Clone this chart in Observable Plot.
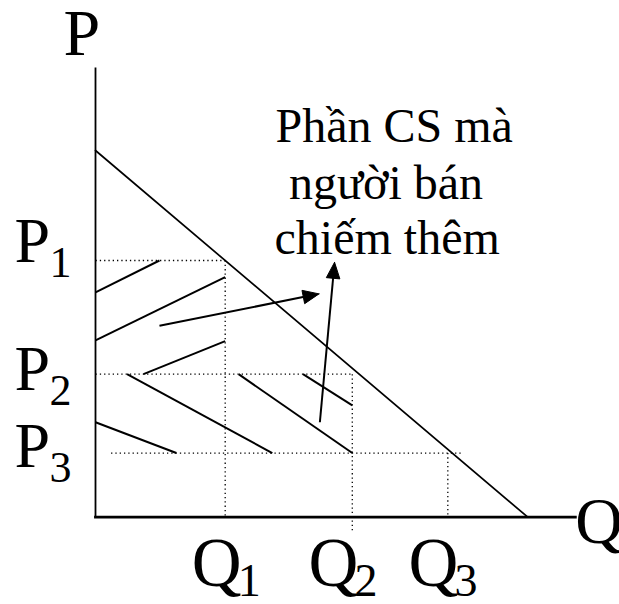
<!DOCTYPE html>
<html>
<head>
<meta charset="utf-8">
<script src="https://cdn.jsdelivr.net/npm/d3@7"></script>
<script src="https://cdn.jsdelivr.net/npm/@observablehq/plot@0.6"></script>
<style>
  html, body { margin: 0; padding: 0; background: #fff; }
</style>
</head>
<body>
<div id="chart"></div>
<script>
// Linear demand curve: price falls from 10 to 0 as quantity rises from 0 to 10
const demandLine = [{q: 0, p: 10}, {q: 10, p: 0}];

// Price levels P1, P2, P3 and the quantities Q1, Q2, Q3 bought at them
const priceLevels = [7, 3.9, 1.75];
const quantityLevels = [3, 5.94, 8.15];
const levelIndex = ["1", "2", "3"];

// Hatching of the surplus areas: [q1, p1, q2, p2]
const hatchSegments = [
  [0, 6.13, 1.48, 7],
  [0, 4.82, 3, 6.545],
  [1.11, 3.9, 3, 4.8],
  [0.73, 3.9, 4.09, 1.75],
  [0, 2.59, 1.87, 1.75],
  [3.31, 3.9, 5.94, 1.75],
  [4.8, 3.9, 5.94, 3.05]
];

// Pointers from the hatched areas to the note: [fromQ, fromP, toQ, toP]
const pointerSegments = [
  [1.48, 5.22, 5.17, 6.09],
  [5.19, 2.59, 5.53, 6.95]
];

// Note text, one entry per line
const noteLines = ["Phần CS mà", "người bán", "chiếm thêm"];

// ---- layout -------------------------------------------------------------
const W = 619, H = 604;
const M = {left: 95, right: 91.7, top: 150, bottom: 87.3};
const qDomain = [0, 10], pDomain = [0, 10];
const serif = "'Liberation Serif', 'Times New Roman', Times, serif";

// pixels per unit on each axis (used to keep arrowheads undistorted)
const kx = (W - M.left - M.right) / (qDomain[1] - qDomain[0]);
const ky = (H - M.top - M.bottom) / (pDomain[1] - pDomain[0]);

const [P1, P2, P3] = priceLevels;
const [Q1, Q2, Q3] = quantityLevels;

// axis extents beyond the demand intercepts
const pAxisTop = 12.24, qAxisRight = 11.1;

const axes = [
  {x1: 0, y1: 0, x2: 0, y2: pAxisTop, w: 1.8},
  {x1: 0, y1: 0, x2: qAxisRight, y2: 0, w: 2.8}
];

const guides = [
  {x1: 0, y1: P1, x2: Q1, y2: P1},
  {x1: Q1, y1: P1, x2: Q1, y2: 0},
  {x1: 0, y1: P2, x2: Q2, y2: P2},
  {x1: Q2, y1: P2, x2: Q2, y2: -0.36},
  {x1: 0.36, y1: P3, x2: 8.46, y2: P3},
  {x1: Q3, y1: P3, x2: Q3, y2: 0}
];

const hatch = hatchSegments.map(([x1, y1, x2, y2]) => ({x1, y1, x2, y2}));

// filled triangular arrowheads built in screen space, mapped back to data units
const headLen = 16, headHalf = 6.8;
const pointerShafts = [];
const pointerHeads = [];
pointerSegments.forEach(([q1, p1, q2, p2], i) => {
  const dx = (q2 - q1) * kx, dy = -(p2 - p1) * ky;
  const len = Math.hypot(dx, dy);
  const ux = dx / len, uy = dy / len;
  const bx = -headLen * ux, by = -headLen * uy;       // tip -> base centre
  const toQ = (px) => px / kx, toP = (py) => -py / ky;
  pointerShafts.push({x1: q1, y1: p1, x2: q2 + toQ(bx + ux), y2: p2 + toP(by + uy)});
  pointerHeads.push(
    {id: i, q: q2, p: p2},
    {id: i, q: q2 + toQ(bx - headHalf * uy), p: p2 + toP(by + headHalf * ux)},
    {id: i, q: q2 + toQ(bx + headHalf * uy), p: p2 + toP(by - headHalf * ux)},
    {id: i, q: q2, p: p2}
  );
});

// text positions in chart units (baseline, left edge)
const noteAnchors = [[4.164, 10.226], [4.476, 8.69], [4.141, 7.183]];
const notes = noteLines.map((t, i) => ({t, q: noteAnchors[i][0], p: noteAnchors[i][1]}));

const pLabelQ = -1.874;
const pLabelBaselines = [6.954, 3.474, 1.364];
const qLabelStarts = [2.228, 4.927, 7.24];
const qLabelBaseline = -1.863;

const pLabels = levelIndex.map((s, i) => ({s, q: pLabelQ, p: pLabelBaselines[i]}));
const qLabels = levelIndex.map((s, i) => ({s, q: qLabelStarts[i], p: qLabelBaseline}));
const axisNames = [
  {t: "P", q: -0.74, p: 12.61},
  {t: "Q", q: 11.1, p: -0.69}
];

const chart = Plot.plot({
  width: W,
  height: H,
  marginLeft: M.left,
  marginRight: M.right,
  marginTop: M.top,
  marginBottom: M.bottom,
  x: {domain: qDomain, axis: null},
  y: {domain: pDomain, axis: null},
  style: {background: "#fff", overflow: "visible"},
  marks: [
    // dotted guides at each price / quantity level
    Plot.link(guides, {x1: "x1", y1: "y1", x2: "x2", y2: "y2",
      stroke: "#000", strokeWidth: 1.3, strokeDasharray: "1.3,3", strokeLinecap: "butt"}),
    // hatching
    Plot.link(hatch, {x1: "x1", y1: "y1", x2: "x2", y2: "y2",
      stroke: "#000", strokeWidth: 2}),
    // demand curve
    Plot.line(demandLine, {x: "q", y: "p", stroke: "#000", strokeWidth: 1.7}),
    // axes
    Plot.link(axes, {x1: "x1", y1: "y1", x2: "x2", y2: "y2",
      stroke: "#000", strokeWidth: "w", strokeLinecap: "square"}),
    // pointers
    Plot.link(pointerShafts, {x1: "x1", y1: "y1", x2: "x2", y2: "y2",
      stroke: "#000", strokeWidth: 2}),
    Plot.line(pointerHeads, {x: "q", y: "p", z: "id",
      fill: "#000", stroke: "#000", strokeWidth: 1, strokeLinejoin: "miter"}),
    // note
    Plot.text(notes, {x: "q", y: "p", text: "t", textAnchor: "start", lineAnchor: "bottom",
      fontSize: 48, fontFamily: serif, fill: "#000"}),
    // axis names
    Plot.text(axisNames, {x: "q", y: "p", text: "t", textAnchor: "start", lineAnchor: "bottom",
      fontSize: 66, fontFamily: serif, fill: "#000"}),
    // P1..P3
    Plot.text(pLabels, {x: "q", y: "p", text: () => "P", textAnchor: "start", lineAnchor: "bottom",
      fontSize: 64, fontFamily: serif, fill: "#000"}),
    Plot.text(pLabels, {x: "q", y: "p", text: "s", textAnchor: "start", lineAnchor: "bottom",
      dx: 35, dy: 15, fontSize: 44, fontFamily: serif, fill: "#000"}),
    // Q1..Q3
    Plot.text(qLabels, {x: "q", y: "p", text: () => "Q", textAnchor: "start", lineAnchor: "bottom",
      fontSize: 69, fontFamily: serif, fill: "#000"}),
    Plot.text(qLabels, {x: "q", y: "p", text: "s", textAnchor: "start", lineAnchor: "bottom",
      dx: 46, dy: 10, fontSize: 46, fontFamily: serif, fill: "#000"})
  ]
});

document.getElementById("chart").appendChild(chart);
</script>
</body>
</html>
